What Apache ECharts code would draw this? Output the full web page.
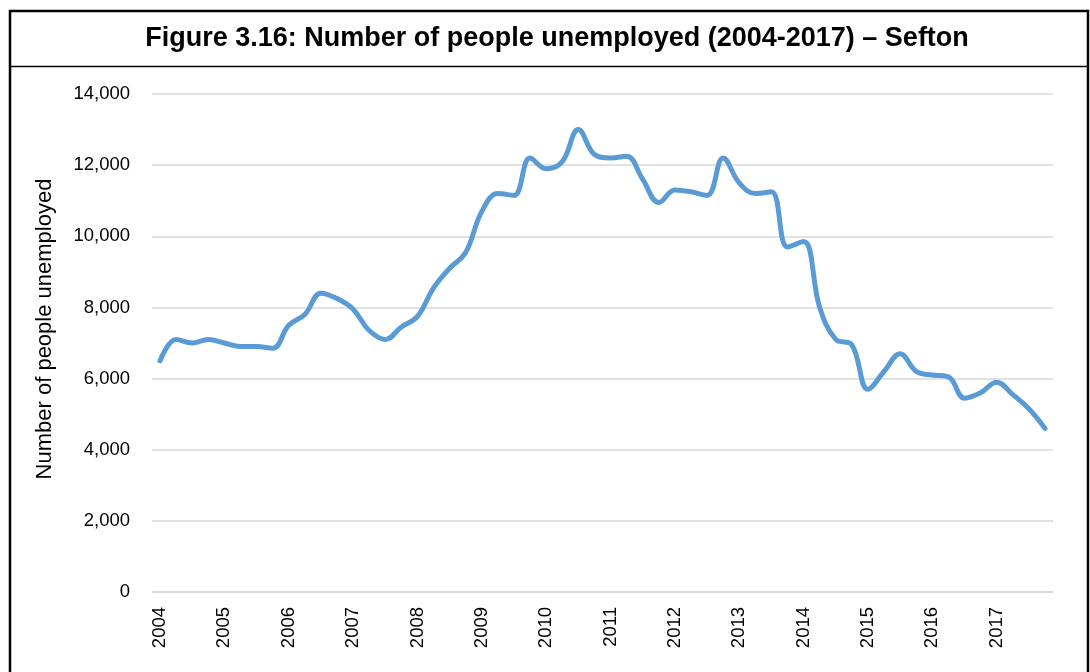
<!DOCTYPE html>
<html>
<head>
<meta charset="utf-8">
<script src="https://cdn.jsdelivr.net/npm/echarts@6/dist/echarts.min.js"></script>
<style>
html,body{margin:0;padding:0;background:#fff;}
#chart{width:1090px;height:672px;}
</style>
</head>
<body>
<div id="chart"></div>
<script>
var titleText = 'Figure 3.16: Number of people unemployed (2004-2017) \u2013 Sefton';
var yAxisTitle = 'Number of people unemployed';
var years = ['2004','2005','2006','2007','2008','2009','2010','2011','2012','2013','2014','2015','2016','2017'];
var quarters = ['Q1','Q2','Q3','Q4'];
var unemployed = [
  6500, 7100, 7000, 7100,
  7000, 6900, 6900, 6850,
  7500, 7800, 8400, 8250,
  7950, 7350, 7100, 7450,
  7750, 8550, 9100, 9550,
  10700, 11200, 11150, 12200,
  11900, 12100, 13000, 12300,
  12200, 12250, 11600, 10950,
  11300, 11250, 11150, 12200,
  11500, 11200, 11250, 9700,
  9850, 8000, 7100, 6950,
  5700, 6200, 6700, 6200,
  6100, 6050, 5450, 5600,
  5900, 5550, 5150, 4600
];

var categories = [];
years.forEach(function (y) { quarters.forEach(function (q) { categories.push(y + ' ' + q); }); });

var tickFont = "'Liberation Sans',Arial,sans-serif";

var chart = echarts.init(document.getElementById('chart'), null, {renderer: 'canvas'});
chart.setOption({
  animation: false,
  backgroundColor: '#fff',
  title: {
    text: titleText,
    left: 552,
    textAlign: 'center',
    top: 20,
    textStyle: {fontFamily: "'Liberation Sans',Arial,sans-serif", fontWeight: 'bold', fontSize: 27, color: '#000'}
  },
  graphic: [
    {type: 'rect', shape: {x: 10, y: 11, width: 1078, height: 700}, style: {fill: 'none', stroke: '#000', lineWidth: 2.5}, silent: true},
    {type: 'line', shape: {x1: 10, y1: 66.5, x2: 1088, y2: 66.5}, style: {stroke: '#000', lineWidth: 1.5}, silent: true}
  ],
  grid: {left: 152, right: 37, top: 94, bottom: 80, containLabel: false},
  xAxis: {
    type: 'category',
    data: categories,
    boundaryGap: true,
    axisLine: {show: true, lineStyle: {color: '#d9d9d9', width: 1.5}},
    axisTick: {show: false},
    splitLine: {show: false},
    axisLabel: {
      interval: 3,
      rotate: 90,
      margin: 15,
      fontFamily: tickFont,
      fontSize: 18.5,
      color: '#000',
      formatter: function (v) { return v.slice(0, 4); }
    }
  },
  yAxis: {
    type: 'value',
    min: 0,
    max: 14000,
    interval: 2000,
    name: yAxisTitle,
    nameLocation: 'middle',
    nameRotate: 90,
    nameGap: 96,
    nameTextStyle: {fontFamily: "'Liberation Sans',Arial,sans-serif", fontSize: 22, color: '#000', padding: [0, 0, 0, 28]},
    axisLine: {show: false},
    axisTick: {show: false},
    splitLine: {show: true, lineStyle: {color: '#d9d9d9', width: 1.5}},
    axisLabel: {
      margin: 22,
      fontFamily: tickFont,
      fontSize: 18.5,
      color: '#000',
      formatter: function (v) { return v.toLocaleString('en-US'); }
    }
  },
  series: [{
    type: 'line',
    data: unemployed,
    smooth: 0.4,
    symbol: 'none',
    lineStyle: {color: '#5B9BD5', width: 5, cap: 'round', join: 'round'},
    itemStyle: {color: '#5B9BD5'}
  }]
});
</script>
</body>
</html>
